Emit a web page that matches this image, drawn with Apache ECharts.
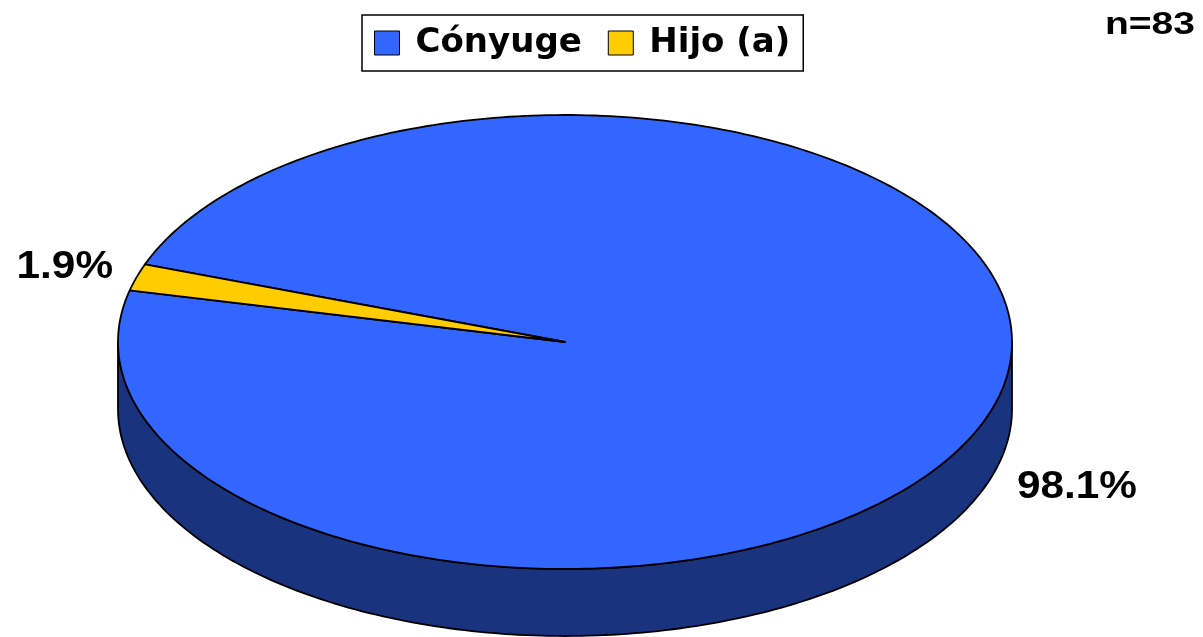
<!DOCTYPE html>
<html>
<head>
<meta charset="utf-8">
<script src="https://cdn.jsdelivr.net/npm/echarts@6/dist/echarts.min.js"></script>
<style>
  html, body { margin: 0; background: #fff; }
  #chart { width: 1203px; height: 637px; }
</style>
</head>
<body>
<div id="chart"></div>
<script>
const categories = ['Cónyuge', 'Hijo (a)'];
const percents = [98.1, 1.9];
const sampleLabel = 'n=83';

const topColors = ['#3366FF', '#FFCC00'];
const sideColors = ['#1A337E', '#806600'];

// fake 3d pie: ellipse centre, radii, thickness
const cx = 565, cy = 342, rx = 447, ry = 227, depth = 67;
const startAngle = 160; // first slice starts here and goes clockwise
const total = percents.reduce((a, b) => a + b, 0);
const labelFont = 'bold 39px "Liberation Sans", Arial';

function sliceRange(i) {
  let before = 0;
  for (let k = 0; k < i; k++) before += percents[k];
  const hi = startAngle - before / total * 360;
  const lo = hi - percents[i] / total * 360;
  return [lo, hi];
}

function pt(t, dy) {
  const r = t * Math.PI / 180;
  return [cx + rx * Math.cos(r), cy - ry * Math.sin(r) + dy];
}

function arc(lo, hi, dy) {
  const pts = [];
  const n = Math.max(2, Math.ceil(hi - lo));
  for (let j = 0; j <= n; j++) pts.push(pt(lo + (hi - lo) * j / n, dy));
  return pts;
}

function renderSlice(i) {
  return function (params, api) {
    const [lo, hi] = sliceRange(i);
    const children = [];
    // front wall, only the part facing us (angles -180..0)
    for (let k = -2; k <= 2; k++) {
      const flo = Math.max(lo, -180 + 360 * k);
      const fhi = Math.min(hi, 360 * k);
      if (flo < fhi) {
        const pts = arc(flo, fhi, 0).concat(arc(flo, fhi, depth).reverse());
        children.push({
          type: 'polygon', z2: 1,
          shape: { points: pts },
          style: { fill: sideColors[i], stroke: '#000', lineWidth: 1.8 }
        });
      }
    }
    children.push({
      type: 'polygon', z2: 5,
      shape: { points: [[cx, cy]].concat(arc(lo, hi, 0)) },
      style: { fill: topColors[i], stroke: '#000', lineWidth: 1.8, lineJoin: 'round' }
    });
    const m = (lo + hi) / 2 * Math.PI / 180;
    const c = Math.cos(m), s = Math.sin(m);
    children.push({
      type: 'text', z2: 10,
      x: cx + rx * 1.055 * c,
      y: cy - ry * 1.055 * s + (s < 0 ? depth + 10 : -6),
      scaleX: 1.085,
      style: {
        text: api.value(0).toFixed(1) + '%',
        x: 0, y: 0,
        align: c < 0 ? 'right' : 'left',
        verticalAlign: 'middle',
        font: labelFont,
        fill: '#000'
      }
    });
    return { type: 'group', children };
  };
}

const chart = echarts.init(document.getElementById('chart'));
chart.setOption({
  animation: false,
  graphic: [{
    type: 'text',
    x: 1195,
    y: 25,
    scaleX: 1.22,
    style: {
      text: sampleLabel,
      align: 'right',
      verticalAlign: 'middle',
      font: 'bold 32px "Liberation Sans", Arial',
      fill: '#000'
    }
  }],
  legend: {
    data: categories,
    left: 362,
    top: 15,
    icon: 'rect',
    itemWidth: 25,
    itemHeight: 24,
    itemGap: 26,
    padding: [10, 13, 10, 12],
    borderColor: '#000',
    borderWidth: 1.5,
    selectedMode: false,
    itemStyle: { borderColor: '#000', borderWidth: 1 },
    textStyle: {
      fontFamily: 'DejaVu Sans', fontWeight: 'bold', fontSize: 34,
      color: '#000', lineHeight: 36, padding: [0, 0, 0, 11]
    }
  },
  series: categories.map((name, i) => ({
    type: 'custom',
    name: name,
    coordinateSystem: 'none',
    itemStyle: { color: topColors[i] },
    data: [[percents[i]]],
    renderItem: renderSlice(i)
  }))
});
</script>
</body>
</html>
